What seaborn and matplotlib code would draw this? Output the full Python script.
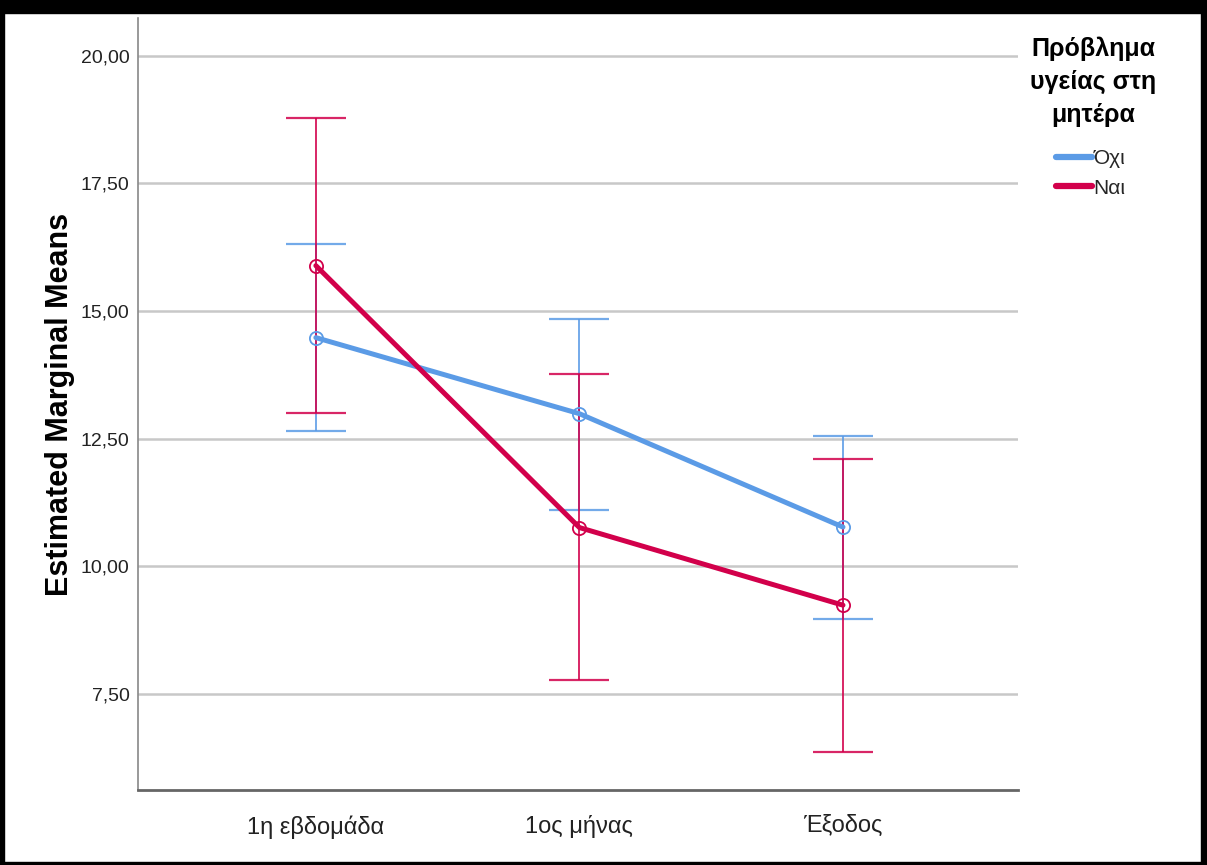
import numpy as np
import pandas as pd
import seaborn as sns
import matplotlib.pyplot as plt
from matplotlib.lines import Line2D
from matplotlib.patches import Rectangle

# estimated marginal means
times = ['1η εβδομάδα', '1ος μήνας', 'Έξοδος']
groups = ['Όχι', 'Ναι']
mean_oxi = [14.48, 12.99, 10.77]
low_oxi = [12.66, 11.10, 8.96]
high_oxi = [16.32, 14.85, 12.56]
mean_nai = [15.89, 10.76, 9.24]
low_nai = [13.00, 7.78, 6.37]
high_nai = [18.79, 13.76, 12.10]

colors = {'Όχι': '#5b9be6', 'Ναι': '#d2004b'}

df = pd.DataFrame({
    'time': times * 2,
    'pos': list(range(len(times))) * 2,
    'group': ['Όχι'] * 3 + ['Ναι'] * 3,
    'mean': mean_oxi + mean_nai,
    'low': low_oxi + low_nai,
    'high': high_oxi + high_nai,
})

sns.set_theme(style='white')
plt.rcParams['font.family'] = ['Liberation Sans', 'DejaVu Sans']

fig = plt.figure(figsize=(12.07, 8.65), dpi=100)
ax = fig.add_axes([0.1143, 0.0867, 0.8434 - 0.1143, 0.9792 - 0.0867])

ax.yaxis.grid(True, color='#c8c8c8', linewidth=1.8)
ax.set_axisbelow(True)

# confidence intervals
for g in groups:
    d = df[df['group'] == g]
    ax.errorbar(d['pos'], d['mean'],
                yerr=[d['mean'] - d['low'], d['high'] - d['mean']],
                fmt='none', ecolor=colors[g], elinewidth=1.4,
                capsize=21.5, capthick=1.6, alpha=0.85, zorder=3)

n_before = len(ax.lines)
sns.lineplot(data=df, x='pos', y='mean', hue='group', hue_order=groups,
             palette=colors, linewidth=3.6, marker='o', markersize=9.5,
             markerfacecolor='none', markeredgewidth=1.3, ax=ax,
             legend=False, zorder=4)
for line in ax.lines[n_before:]:
    line.set_markeredgecolor(line.get_color())

ax.set_xlim(-0.675, 2.664)
ax.set_ylim(5.62, 20.74)
ax.set_xticks(range(len(times)))
ax.set_xticklabels(times, fontsize=17)
ax.set_yticks([7.5, 10, 12.5, 15, 17.5, 20])
ax.set_yticklabels(['7,50', '10,00', '12,50', '15,00', '17,50', '20,00'], fontsize=14)
ax.tick_params(axis='x', length=0, pad=18, colors='#222222')
ax.tick_params(axis='y', length=0, pad=6, colors='#222222')
ax.set_xlabel('')
ax.set_ylabel('Estimated Marginal Means', fontsize=22, fontweight='bold',
              color='black', labelpad=4)

for s in ['top', 'right']:
    ax.spines[s].set_visible(False)
ax.spines['left'].set_color('#888888')
ax.spines['left'].set_linewidth(1.2)
ax.spines['bottom'].set_color('#666666')
ax.spines['bottom'].set_linewidth(2)

# legend: title as its own text, entries below it
fig.text(1093 / 1207, 1 - 37 / 865, 'Πρόβλημα\nυγείας στη\nμητέρα',
         ha='center', va='top', fontsize=18, fontweight='bold',
         linespacing=1.45, color='black')
handles = [Line2D([], [], color=colors[g], linewidth=4.5) for g in groups]
fig.legend(handles, groups, loc='upper left',
           bbox_to_anchor=(1052 / 1207, 1 - 145 / 865),
           frameon=False, fontsize=15, handlelength=1.7,
           handletextpad=0.1, labelspacing=0.5, borderpad=0.2,
           borderaxespad=0)

# black frame round the picture
W, H = 1207, 865
for x0, y0, w, h in [(0, H - 13, W, 13), (0, 0, 4, H), (W - 6, 0, 6, H), (0, 0, W, 3)]:
    fig.add_artist(Rectangle((x0 / W, y0 / H), w / W, h / H,
                             transform=fig.transFigure, color='black', zorder=10))

fig.savefig('out.png', dpi=100)
